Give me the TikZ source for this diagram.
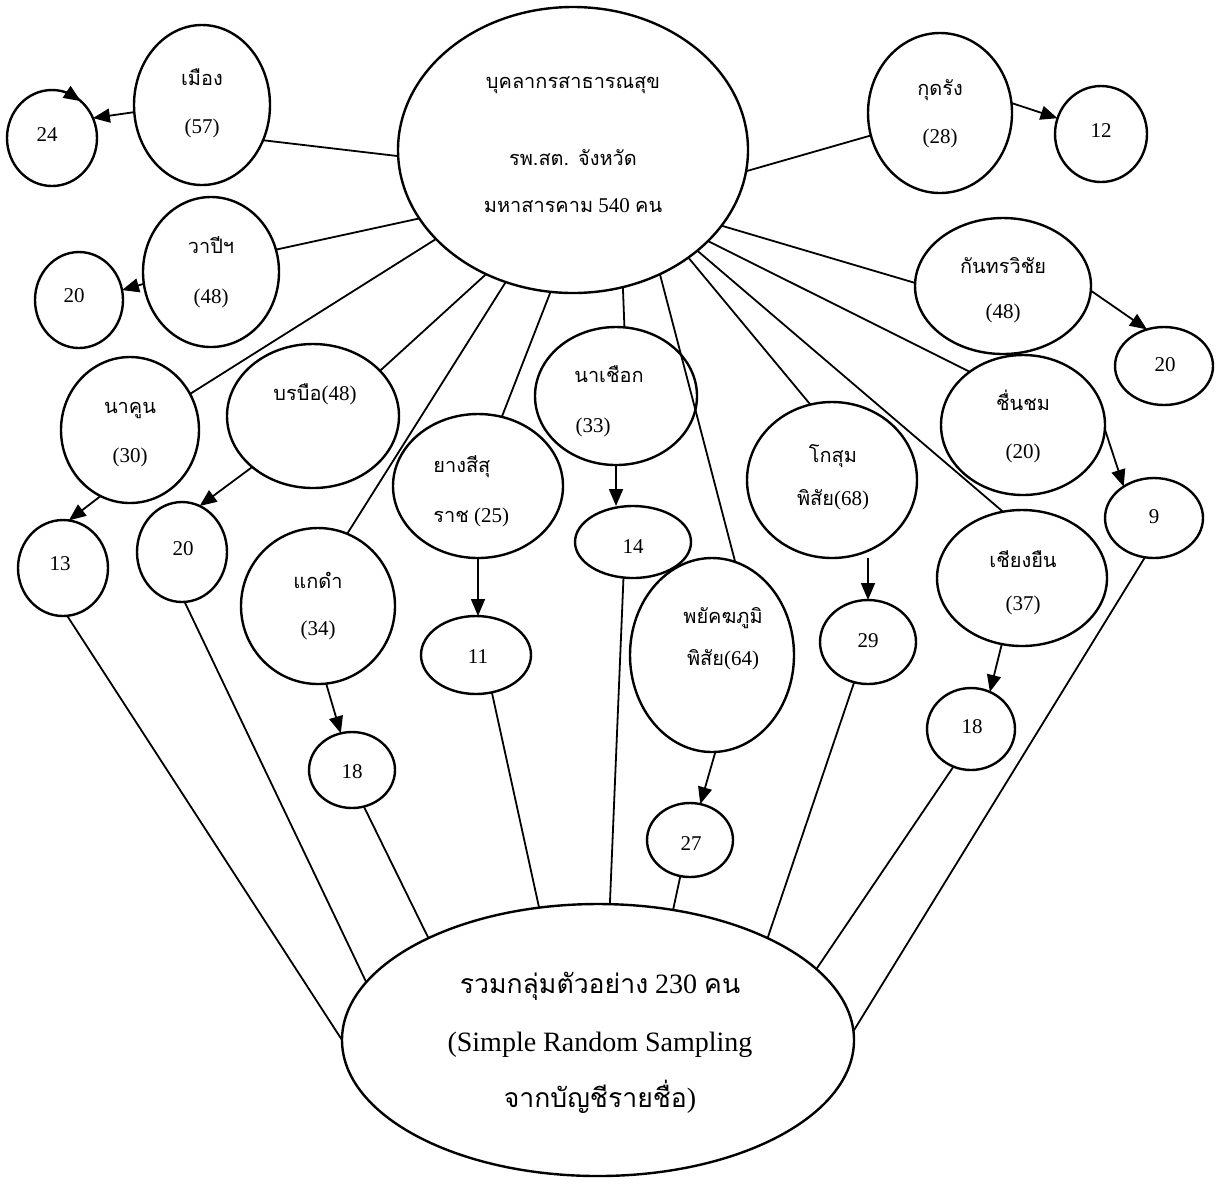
\documentclass[tikz,border=0pt]{standalone}
\usepackage{fontspec}
\setmainfont{Liberation Serif}
\newfontfamily\thai[Script=Thai,Scale=0.95]{Loma}
\usetikzlibrary{shapes.geometric,arrows.meta}
\tikzset{
  ell/.style={draw, ellipse, line width=1.2pt, inner sep=0pt, outer sep=0pt},
  con/.style={line width=0.9pt},
  arr/.style={line width=0.9pt, -{Triangle[length=8.5pt,width=7pt]}},
  lbl/.style={inner sep=0pt, font=\fontsize{10.5}{12}\selectfont, text height=8pt, text depth=2.5pt},
  big/.style={inner sep=0pt, font=\fontsize{14}{16}\selectfont, text height=10.5pt, text depth=3.5pt},
}
\begin{document}
\begin{tikzpicture}[x=0.5pt,y=-0.5pt]
\path[use as bounding box] (0,0) rectangle (1224,1185);
% ---- ellipses (minimum width = rx pt, minimum height = ry pt in this scale)
\node[ell, minimum width=175pt, minimum height=143pt] (C) at (573,150) {};
\node[ell, minimum width=256pt, minimum height=136pt] (B) at (598,1040) {};
\node[ell, minimum width=68pt, minimum height=80pt] (muang) at (202,105) {};
\node[ell, minimum width=45pt, minimum height=48pt] (n24) at (52,138) {};
\node[ell, minimum width=68pt, minimum height=75pt] (wapi) at (211,272) {};
\node[ell, minimum width=44pt, minimum height=48pt] (n20a) at (79,300) {};
\node[ell, minimum width=72pt, minimum height=80pt] (kud) at (940,113) {};
\node[ell, minimum width=46pt, minimum height=48pt] (n12) at (1101,134) {};
\node[ell, minimum width=88pt, minimum height=68pt] (kan) at (1003,286) {};
\node[ell, minimum width=49pt, minimum height=39pt] (n20b) at (1164,366) {};
\node[ell, minimum width=82pt, minimum height=70pt] (chuen) at (1023,425) {};
\node[ell, minimum width=49pt, minimum height=40pt] (n9) at (1154,518) {};
\node[ell, minimum width=85pt, minimum height=78pt] (kosum) at (832,480) {};
\node[ell, minimum width=48pt, minimum height=42pt] (n29) at (868,642) {};
\node[ell, minimum width=85pt, minimum height=68pt] (chiang) at (1022,578) {};
\node[ell, minimum width=44pt, minimum height=41pt] (n18b) at (971,729) {};
\node[ell, minimum width=81pt, minimum height=69pt] (nachuak) at (616,396) {};
\node[ell, minimum width=58pt, minimum height=36pt] (n14) at (633,542) {};
\node[ell, minimum width=85pt, minimum height=72pt] (yang) at (478,486) {};
\node[ell, minimum width=55pt, minimum height=39pt] (n11) at (476,655) {};
\node[ell, minimum width=77pt, minimum height=78pt] (kaedam) at (318,606) {};
\node[ell, minimum width=43pt, minimum height=38pt] (n18a) at (352,770) {};
\node[ell, minimum width=82pt, minimum height=97pt] (payak) at (712,655) {};
\node[ell, minimum width=43pt, minimum height=37pt] (n27) at (690,840) {};
\node[ell, minimum width=69pt, minimum height=73pt] (nakun) at (130,430) {};
\node[ell, minimum width=45pt, minimum height=48pt] (n13) at (63,568) {};
\node[ell, minimum width=86pt, minimum height=72pt] (borabue) at (313,416) {};
\node[ell, minimum width=45pt, minimum height=50pt] (n20c) at (182,552) {};
% ---- texts
\node[lbl] (tC1) at (573,83) {\thai บุคลากรสาธารณสุข};
\node[lbl] (tC2) at (573,160) {\thai รพ.สต. จังหวัด};
\node[lbl] (tC3) at (573,207) {{\thai มหาสารคาม} 540 {\thai คน}};
\node[lbl] (tmuang1) at (202,80) {\thai เมือง};
\node[lbl] (tmuang2) at (202,128) {(57)};
\node[lbl] (t24) at (47,136) {24};
\node[lbl] (twapi1) at (211,248) {\thai วาปีฯ};
\node[lbl] (twapi2) at (211,298) {(48)};
\node[lbl] (t20a) at (74,297) {20};
\node[lbl] (tkud1) at (940,90) {\thai กุดรัง};
\node[lbl] (tkud2) at (940,138) {(28)};
\node[lbl] (t12) at (1101,132) {12};
\node[lbl] (tkan1) at (1003,268) {\thai กันทรวิชัย};
\node[lbl] (tkan2) at (1003,313) {(48)};
\node[lbl] (t20b) at (1165,366) {20};
\node[lbl] (tchuen1) at (1023,405) {\thai ชื่นชม};
\node[lbl] (tchuen2) at (1023,453) {(20)};
\node[lbl] (t9) at (1154,518) {9};
\node[lbl] (tkosum1) at (833,457) {\thai โกสุม};
\node[lbl] (tkosum2) at (833,500) {{\thai พิสัย}(68)};
\node[lbl] (t29) at (868,642) {29};
\node[lbl] (tchiang1) at (1023,562) {\thai เชียงยืน};
\node[lbl] (tchiang2) at (1023,605) {(37)};
\node[lbl] (t18b) at (972,728) {18};
\node[lbl] (tnachuak1) at (609,377) {\thai นาเชือก};
\node[lbl] (tnachuak2) at (593,427) {(33)};
\node[lbl] (t14) at (633,548) {14};
\node[lbl, anchor=west] (tyang1) at (433,467) {\thai ยางสีสุ};
\node[lbl, anchor=west] (tyang2) at (433,517) {{\thai ราช} (25)};
\node[lbl] (t11) at (478,658) {11};
\node[lbl] (tkaedam1) at (318,583) {\thai แกดำ};
\node[lbl] (tkaedam2) at (318,630) {(34)};
\node[lbl] (t18a) at (352,773) {18};
\node[lbl] (tpayak1) at (723,618) {\thai พยัคฆภูมิ};
\node[lbl] (tpayak2) at (723,660) {{\thai พิสัย}(64)};
\node[lbl] (t27) at (691,845) {27};
\node[lbl] (tnakun1) at (130,408) {\thai นาคูน};
\node[lbl] (tnakun2) at (130,457) {(30)};
\node[lbl] (t13) at (60,565) {13};
\node[lbl] (tborabue) at (315,395) {{\thai บรบือ}(48)};
\node[lbl] (t20c) at (183,550) {20};
\node[big] (tB1) at (600,986) {{\thai รวมกลุ่มตัวอย่าง} 230 {\thai คน}};
\node[big] (tB2) at (600,1044) {(Simple Random Sampling};
\node[big] (tB3) at (600,1100) {{\thai จากบัญชีรายชื่อ})};
% ---- connectors from the top ellipse
\draw[con] (C.182) -- (muang.-30);
\draw[con] (C.204) -- (wapi.19);
\draw[con] (C.213) -- (nakun.31.5);
\draw[con] (C.235) -- (borabue.34);
\draw[con] (C.243) -- (kaedam.68);
\draw[con] (C.261) -- (yang.71);
\draw[con] (C.290) -- (nachuak.83);
\draw[con] (C.305) -- (payak.76);
\draw[con] (C.317) -- (kosum.106);
\draw[con] (C.321) -- (chiang.106);
\draw[con] (C.326) -- (chuen.135);
\draw[con] (C.333) -- (kan.178);
\draw[con] (C.353) -- (kud.198);
% ---- arrows to samples
\draw[arr] (muang.186) -- (n24.26);
\draw[arr] (n24.68) -- (n24.52);
\draw[arr] (wapi.190) -- (n20a.13.5);
\draw[arr] (kud.8) -- (n12.160);
\draw[arr] (kan.-3) -- (n20b.115);
\draw[arr] (chuen.-3.5) -- (n9.134);
\draw[arr] (n29.north |- kosum.south) -- (n29.north);
\draw[arr] (chiang.253) -- (n18b.63);
\draw[arr] (nachuak.south) -- (nachuak.south |- n14.north);
\draw[arr] (yang.south) -- (yang.south |- n11.north);
\draw[arr] (kaedam.276) -- (n18a.107);
\draw[arr] (payak.272) -- (n27.74);
\draw[arr] (nakun.246) -- (n13.83);
\draw[arr] (borabue.220) -- (n20c.69);
% ---- connectors to the bottom ellipse
\draw[con] (n13.275) -- (B.180);
\draw[con] (n20c.273) -- (B.166.6);
\draw[con] (n18a.288) -- (B.149);
\draw[con] (n11.293) -- (B.114);
\draw[con] (n14.255) -- (B.85);
\draw[con] (n27.255) -- (B.60);
\draw[con] (n29.251) -- (B.31);
\draw[con] (n18b.245) -- (B.18);
\draw[con] (n9.257) -- (B.2);
\end{tikzpicture}
\end{document}
